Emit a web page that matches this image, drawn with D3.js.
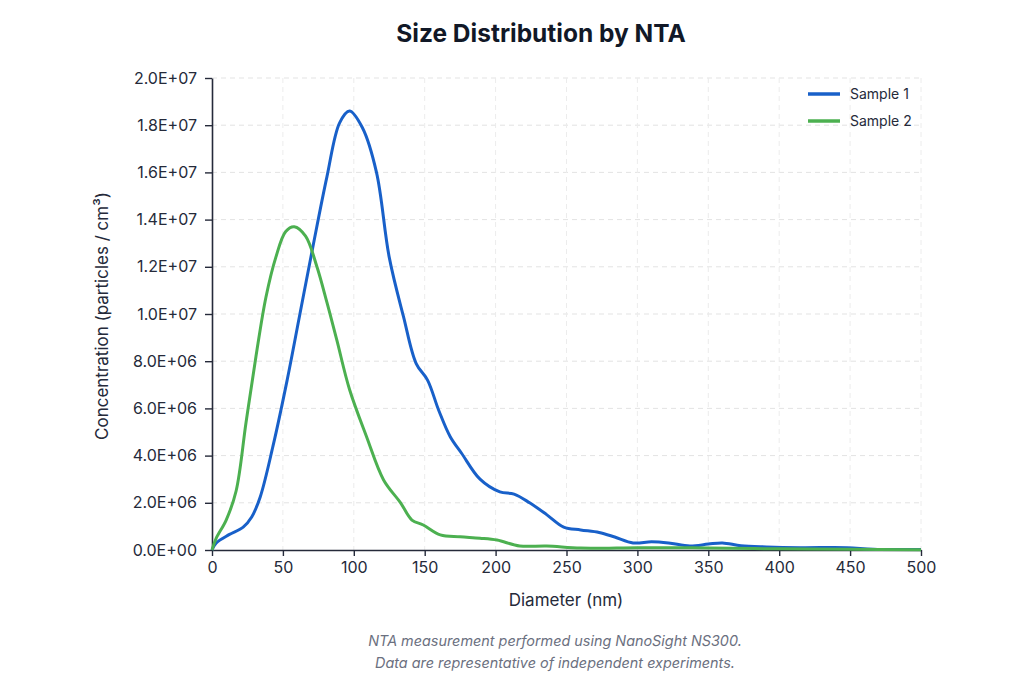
<!DOCTYPE html>
<html>
<head>
<meta charset="utf-8">
<script src="https://cdn.jsdelivr.net/npm/d3@7"></script>
<style>
  body { margin: 0; background: #fff; }
  svg { display: block; font-family: Inter, "Noto Sans", sans-serif; }
</style>
</head>
<body>
<svg id="chart" width="1024" height="683"></svg>
<script>
// Diameter (nm) / concentration
let sample1 = [
  [0, 0], [3, 0.3e6], [12, 0.65e6], [22, 0.97e6], [28, 1.4e6], [34, 2.25e6], [43, 4.4e6],
  [53, 7.2e6], [62, 10e6], [71, 12.8e6], [81, 15.8e6], [90, 18.1e6], [97, 18.6e6],
  [106, 17.9e6], [116, 16e6], [125, 12.4e6], [135, 9.9e6], [144, 7.9e6], [152, 7.2e6],
  [160, 5.9e6], [168, 4.8e6], [176, 4.1e6], [189, 3.0e6], [203, 2.46e6], [213, 2.37e6],
  [224, 2.0e6], [236, 1.5e6], [248, 0.97e6], [260, 0.85e6], [273, 0.74e6], [284, 0.55e6],
  [297, 0.3e6], [310, 0.35e6], [322, 0.3e6], [337, 0.17e6], [350, 0.25e6], [360, 0.3e6],
  [373, 0.18e6], [391, 0.13e6], [415, 0.1e6], [448, 0.1e6], [466, 0.03e6], [500, 0.02e6]
];
let sample2 = [
  [0, 0], [3, 0.5e6], [10, 1.27e6], [17, 2.5e6], [24, 5.4e6], [31, 8.2e6], [38, 10.7e6],
  [45, 12.4e6], [52, 13.5e6], [58, 13.7e6], [66, 13.3e6], [74, 12e6], [81, 10.5e6],
  [88, 8.9e6], [97, 6.8e6], [109, 4.8e6], [121, 2.97e6], [133, 2.0e6], [141, 1.27e6],
  [149, 1.06e6], [161, 0.64e6], [175, 0.56e6], [189, 0.5e6], [201, 0.42e6], [217, 0.17e6],
  [236, 0.17e6], [260, 0.08e6], [300, 0.1e6], [330, 0.1e6], [350, 0.08e6], [400, 0.05e6],
  [450, 0.03e6], [500, 0.01e6]
];
let seriesNames = ["Sample 1", "Sample 2"];
let seriesColors = ["#1860c9", "#4cb050"];
let xTicks = [0, 50, 100, 150, 200, 250, 300, 350, 400, 450, 500];
let yTicks = [0, 2e6, 4e6, 6e6, 8e6, 10e6, 12e6, 14e6, 16e6, 18e6, 20e6];
let footnotes = [
  "NTA measurement performed using NanoSight NS300.",
  "Data are representative of independent experiments."
];

let svg = d3.select("#chart");
let plotLeft = 212, plotRight = 921, plotTop = 78, plotBottom = 550;
let ink = "#252a3a";

let x = d3.scaleLinear().domain([0, 500]).range([plotLeft, plotRight]);
let y = d3.scaleLinear().domain([0, 2e7]).range([plotBottom, plotTop]);

// 2.0E+07 style labels
function sci(v) {
  if (v === 0) return "0.0E+00";
  let e = Math.floor(Math.log10(v));
  let m = v / Math.pow(10, e);
  return m.toFixed(1) + "E+" + String(e).padStart(2, "0");
}

// gridlines
svg.append("g").selectAll("line").data(yTicks.slice(1)).enter().append("line")
  .attr("x1", plotLeft).attr("x2", plotRight)
  .attr("y1", d => y(d)).attr("y2", d => y(d))
  .attr("stroke", "#e3e3e3").attr("stroke-dasharray", "5,4");
svg.append("g").selectAll("line").data(xTicks.slice(1)).enter().append("line")
  .attr("x1", d => x(d)).attr("x2", d => x(d))
  .attr("y1", plotTop).attr("y2", plotBottom)
  .attr("stroke", "#ececec").attr("stroke-dasharray", "5,4");

// axes
let xAxis = svg.append("g").attr("transform", `translate(0,${plotBottom})`)
  .call(d3.axisBottom(x).tickValues(xTicks).tickSize(6).tickPadding(6).tickSizeOuter(0));
let yAxis = svg.append("g").attr("transform", `translate(${plotLeft},0)`)
  .call(d3.axisLeft(y).tickValues(yTicks).tickFormat(sci).tickSize(7).tickPadding(8).tickSizeOuter(0));
[xAxis, yAxis].forEach(a => {
  a.select(".domain").attr("stroke", ink).attr("stroke-width", 1.6);
  a.selectAll(".tick line").attr("stroke", ink).attr("stroke-width", 1.4);
  a.selectAll(".tick text").attr("fill", ink).style("font-size", "16px")
    .style("font-family", "Inter, 'Noto Sans', sans-serif");
});

// curves
let line = d3.line().x(d => x(d[0])).y(d => y(d[1])).curve(d3.curveCatmullRom.alpha(0.5));
[sample1, sample2].forEach((data, i) => {
  svg.append("path")
    .attr("d", line(data))
    .attr("fill", "none")
    .attr("stroke", seriesColors[i])
    .attr("stroke-width", 3)
    .attr("stroke-linejoin", "round");
});

// legend
seriesNames.forEach((name, i) => {
  let ly = 94 + i * 27;
  svg.append("line").attr("x1", 808).attr("x2", 840).attr("y1", ly).attr("y2", ly)
    .attr("stroke", seriesColors[i]).attr("stroke-width", 3.5);
  svg.append("text").attr("x", 850).attr("y", ly + 5).text(name)
    .attr("fill", ink).style("font-size", "14px");
});

// titles
svg.append("text").attr("x", 541).attr("y", 42).attr("text-anchor", "middle")
  .text("Size Distribution by NTA").attr("fill", "#111827")
  .style("font-size", "24.5px").style("font-weight", "700");
svg.append("text").attr("x", 566).attr("y", 606).attr("text-anchor", "middle")
  .text("Diameter (nm)").attr("fill", ink).style("font-size", "17px");
svg.append("text").attr("transform", "translate(108,316) rotate(-90)")
  .attr("text-anchor", "middle").attr("fill", ink).style("font-size", "17px")
  .text("Concentration (particles / cm³)");

footnotes.forEach((t, i) => {
  svg.append("text").attr("x", 555).attr("y", 646 + i * 22).attr("text-anchor", "middle")
    .text(t).attr("fill", "#6b7080").style("font-size", "14.4px").style("font-style", "italic");
});
</script>
</body>
</html>
